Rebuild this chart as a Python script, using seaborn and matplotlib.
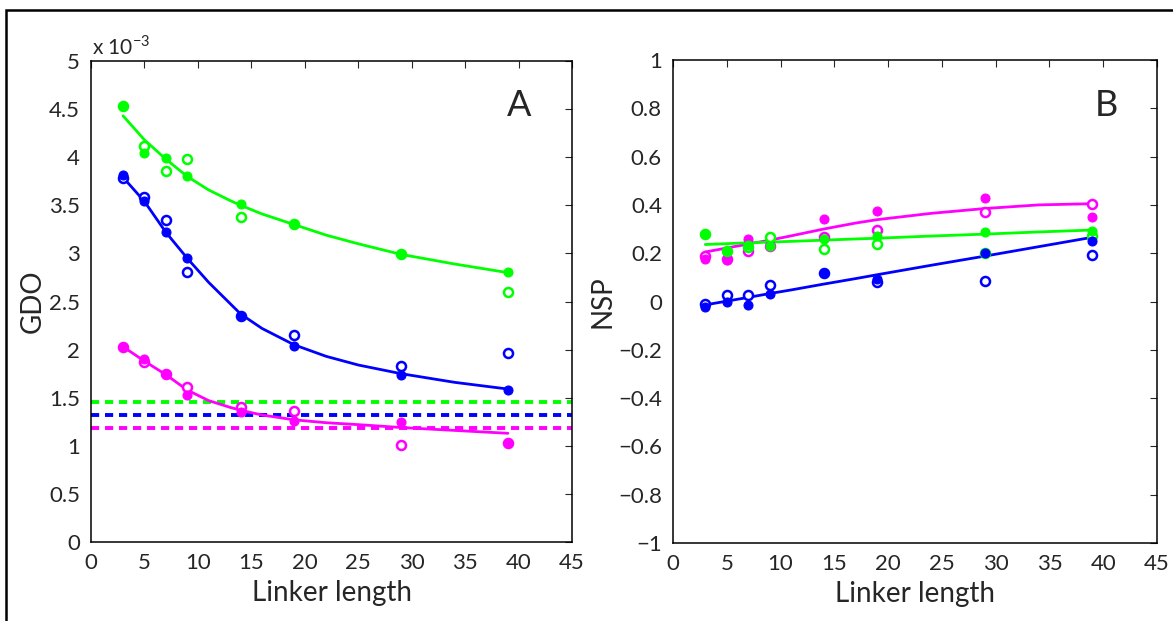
import seaborn as sns
import matplotlib.pyplot as plt
from matplotlib.patches import Rectangle
from matplotlib.ticker import FuncFormatter

# linker lengths
linker = [3, 5, 7, 9, 14, 19, 29, 39]

# panel A: GDO (x 1e-3), filled and open symbols
gdo_green_filled = [4.53, 4.04, 3.99, 3.80, 3.51, 3.31, 2.99, 2.81]
gdo_green_open = [4.53, 4.12, 3.86, 3.98, 3.38, 3.31, 2.99, 2.60]
gdo_blue_filled = [3.82, 3.54, 3.22, 2.95, 2.35, 2.04, 1.74, 1.58]
gdo_blue_open = [3.78, 3.59, 3.35, 2.81, 2.35, 2.15, 1.83, 1.96]
gdo_mag_filled = [2.03, 1.90, 1.75, 1.53, 1.35, 1.26, 1.25, 1.03]
gdo_mag_open = [2.03, 1.87, 1.75, 1.61, 1.40, 1.36, 1.01, 1.03]

# fitted curves
fit_x = [3, 5, 7, 9, 11, 13, 14, 16, 19, 22, 25, 29, 34, 39]
gdo_green_fit = [4.43, 4.18, 3.98, 3.80, 3.66, 3.55, 3.50, 3.41, 3.30, 3.19, 3.10, 2.99, 2.89, 2.80]
gdo_blue_fit = [3.79, 3.54, 3.22, 2.95, 2.70, 2.48, 2.37, 2.22, 2.05, 1.93, 1.84, 1.75, 1.66, 1.59]
gdo_mag_fit = [2.03, 1.88, 1.74, 1.58, 1.47, 1.40, 1.37, 1.32, 1.27, 1.24, 1.22, 1.19, 1.16, 1.13]

# random-linker reference levels
gdo_base = {'green': 1.46, 'blue': 1.32, 'magenta': 1.18}

# panel B: NSP
nsp_green_filled = [0.28, 0.21, 0.235, 0.23, 0.26, 0.27, 0.288, 0.29]
nsp_green_open = [0.28, 0.21, 0.225, 0.267, 0.219, 0.238, 0.20, 0.27]
nsp_blue_filled = [-0.024, 0.0, -0.014, 0.032, 0.12, 0.094, 0.20, 0.249]
nsp_blue_open = [-0.011, 0.028, 0.028, 0.069, 0.12, 0.079, 0.086, 0.191]
nsp_mag_filled = [0.177, 0.173, 0.26, 0.228, 0.34, 0.373, 0.429, 0.349]
nsp_mag_open = [0.19, 0.175, 0.21, 0.23, 0.266, 0.296, 0.37, 0.405]

nsp_fit_x = [3, 7, 9, 11, 14, 17, 19, 24, 29, 34, 39]
nsp_green_fit = [0.236, 0.243, 0.246, 0.249, 0.254, 0.259, 0.262, 0.271, 0.279, 0.288, 0.296]
nsp_blue_fit = [-0.014, 0.017, 0.033, 0.048, 0.072, 0.095, 0.111, 0.150, 0.188, 0.227, 0.266]
nsp_mag_fit = [0.205, 0.238, 0.254, 0.272, 0.300, 0.325, 0.339, 0.365, 0.385, 0.400, 0.405]

GREEN = '#00ff00'
BLUE = '#0000ff'
MAG = '#ff00ff'


def fmt(v, pos):
    return ('%g' % round(v, 2)).replace('-', '\u2212')


def draw_points(ax, y_open, y_filled, color):
    sns.lineplot(x=linker, y=y_open, ax=ax, color=color, linestyle='', marker='o',
                 markersize=6.5, markerfacecolor='white', markeredgecolor=color,
                 markeredgewidth=1.8)
    sns.lineplot(x=linker, y=y_filled, ax=ax, color=color, linestyle='', marker='o',
                 markersize=6.5, markerfacecolor=color, markeredgecolor=color)


def style_axis(ax):
    ax.set_xlim(0, 45)
    ax.set_xticks(range(0, 50, 5))
    ax.tick_params(direction='in', top=True, right=True, length=5, width=0.8,
                   labelsize=16, pad=8)
    for s in ax.spines.values():
        s.set_linewidth(1.1)
        s.set_color('black')
    ax.yaxis.set_major_formatter(FuncFormatter(fmt))
    ax.xaxis.set_major_formatter(FuncFormatter(fmt))
    ax.set_xlabel('Linker length', fontsize=20, labelpad=5)


def main():
    sns.set_style('white')
    plt.rcParams['font.family'] = ['Lato', 'DejaVu Sans']
    plt.rcParams['mathtext.fontset'] = 'custom'
    plt.rcParams['mathtext.rm'] = 'Lato'

    W, H = 1173, 621
    fig = plt.figure(figsize=(W / 100, H / 100), dpi=100)
    ax1 = fig.add_axes([91 / W, 1 - 542 / H, (572 - 91) / W, (542 - 61) / H])
    ax2 = fig.add_axes([673 / W, 1 - 543 / H, (1157 - 673) / W, (543 - 60) / H])

    # panel A
    ax = ax1
    for c, y in gdo_base.items():
        ax.axhline(y, color=c if c != 'green' else GREEN, lw=2.8, dashes=(2.1, 1.5))
    for fit, col in [(gdo_green_fit, GREEN), (gdo_blue_fit, BLUE), (gdo_mag_fit, MAG)]:
        sns.lineplot(x=fit_x, y=fit, ax=ax, color=col, lw=2.0)
    draw_points(ax, gdo_green_open, gdo_green_filled, GREEN)
    draw_points(ax, gdo_blue_open, gdo_blue_filled, BLUE)
    draw_points(ax, gdo_mag_open, gdo_mag_filled, MAG)
    ax.set_ylim(0, 5)
    ax.set_yticks([0, 0.5, 1, 1.5, 2, 2.5, 3, 3.5, 4, 4.5, 5])
    style_axis(ax)
    ax.set_ylabel('GDO', fontsize=20, labelpad=2)
    ax.text(0.003, 1.005, 'x 10$^{-3}$', transform=ax.transAxes, fontsize=15,
            ha='left', va='bottom')
    ax.text(40.1, 4.54, 'A', fontsize=26, ha='center', va='center')

    # panel B
    ax = ax2
    for fit, col in [(nsp_mag_fit, MAG), (nsp_green_fit, GREEN), (nsp_blue_fit, BLUE)]:
        sns.lineplot(x=nsp_fit_x, y=fit, ax=ax, color=col, lw=2.0)
    draw_points(ax, nsp_mag_open, nsp_mag_filled, MAG)
    draw_points(ax, nsp_green_open, nsp_green_filled, GREEN)
    draw_points(ax, nsp_blue_open, nsp_blue_filled, BLUE)
    ax.set_ylim(-1, 1)
    ax.set_yticks([-1, -0.8, -0.6, -0.4, -0.2, 0, 0.2, 0.4, 0.6, 0.8, 1])
    style_axis(ax)
    ax.set_ylabel('NSP', fontsize=20, labelpad=2)
    ax.text(40.3, 0.81, 'B', fontsize=26, ha='center', va='center')

    # outer frame
    fig.patches.append(Rectangle((6 / W, -0.1), 1.1, 1.1 - 9.5 / H, fill=False,
                                 lw=1.8, ec='black', transform=fig.transFigure))

    fig.savefig('out.png', dpi=100)


if __name__ == '__main__':
    main()
